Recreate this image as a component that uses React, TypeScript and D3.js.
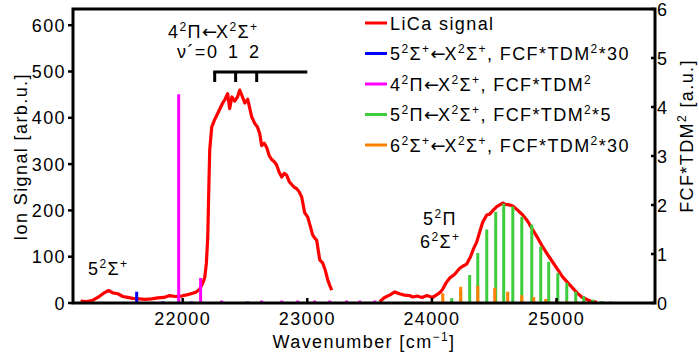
import * as d3 from 'd3';
import * as React from 'react';

// LiCa ion signal, two scanned ranges (wavenumber, ion signal)
const scanAW = [21181, 21230, 21280, 21330, 21370, 21406, 21440, 21480, 21520, 21560, 21599, 21650, 21700, 21750, 21800, 21850, 21896, 21940, 21992, 22040, 22080, 22110, 22136, 22160, 22177, 22190, 22201, 22210, 22217, 22233, 22255, 22273, 22300, 22321, 22340, 22361, 22377, 22395, 22417, 22440, 22458, 22480, 22498, 22522, 22554, 22578, 22600, 22618, 22634, 22655, 22674, 22695, 22714, 22735, 22754, 22775, 22795, 22815, 22835, 22855, 22875, 22895, 22915, 22935, 22955, 22979, 23003, 23025, 23043, 23060, 23075, 23090, 23100, 23124, 23145, 23164, 23180, 23196];
const scanAV = [4, 3, 6, 14, 22, 27, 22, 20, 14, 12, 10, 9, 8, 9, 11, 12, 16, 14, 15, 18, 21, 24, 30, 42, 55, 85, 140, 250, 330, 380, 395, 405, 420, 432, 440, 452, 420, 445, 436, 445, 460, 445, 432, 440, 402, 388, 380, 366, 340, 345, 336, 318, 310, 305, 298, 282, 272, 280, 276, 262, 256, 250, 247, 240, 229, 195, 186, 165, 147, 140, 136, 110, 93, 86, 70, 50, 38, 28];
const scanBW = [23581, 23620, 23661, 23702, 23740, 23780, 23820, 23846, 23880, 23920, 23960, 24007, 24040, 24070, 24087, 24115, 24143, 24183, 24223, 24250, 24279, 24310, 24335, 24360, 24385, 24408, 24440, 24464, 24490, 24520, 24545, 24568, 24590, 24620, 24645, 24665, 24690, 24729, 24770, 24809, 24850, 24889, 24930, 24970, 25010, 25050, 25090, 25130, 25165, 25202, 25240, 25283, 25323];
const scanBV = [3, 12, 17, 24, 20, 17, 16, 13, 15, 12, 16, 12, 18, 24, 30, 44, 54, 62, 75, 80, 84, 100, 118, 132, 155, 175, 190, 192, 200, 208, 212, 216, 213, 212, 210, 206, 200, 190, 176, 158, 140, 121, 104, 88, 72, 56, 44, 32, 22, 13, 8, 3, 2];

// computed stick spectra (FCF*TDM^2, scaled)
const sigma5W = [21631, 21839, 22072, 22313, 22522];
const sigma5H = [0.23, 0.03, 0.03, 0.03, 0.03];
const pi4W = [21968, 22144, 22313, 22634, 22795, 22923, 23059, 23180, 23316, 23421, 23541];
const pi4H = [4.26, 0.51, 0.05, 0.05, 0.05, 0.05, 0.05, 0.05, 0.05, 0.05, 0.05];
const pi5W = [24159, 24231, 24303, 24368, 24440, 24512, 24576, 24649, 24721, 24801, 24873, 24937, 25010, 25082, 25154, 25218, 25291, 25363, 25435, 25507, 25571, 25636];
const pi5H = [0.1, 0.25, 0.57, 1.02, 1.5, 1.86, 2.03, 1.97, 1.76, 1.6, 1.15, 0.84, 0.61, 0.41, 0.23, 0.14, 0.07, 0.04, 0.03, 0.02, 0.02, 0.02];
const sigma6W = [24087, 24231, 24368, 24504, 24608, 24721, 24817, 24913, 25002, 25082, 25162, 25243, 25363, 25419, 25475, 25531, 25588, 25644];
const sigma6H = [0.2, 0.33, 0.35, 0.31, 0.23, 0.16, 0.12, 0.08, 0.06, 0.04, 0.03, 0.02, 0.02, 0.02, 0.02, 0.02, 0.02, 0.02];

// v' = 0, 1, 2 of 4²Π and end of the progression bracket
const vLevels = [22257, 22425, 22594];
const vLabels = ['0', '1', '2'];
const bracketEnd = 23000;

const xTicks = [22000, 23000, 24000, 25000];
const leftTicks = [0, 100, 200, 300, 400, 500, 600];
const rightTicks = [0, 1, 2, 3, 4, 5, 6];

const font = "'Liberation Sans', Arial, Helvetica, sans-serif";

// label built from [text, superscript] pairs
const Term = ({ parts }) => (
  <>
    {parts.map(([t, s], i) => (
      <React.Fragment key={i}>
        <tspan dy={i === 0 ? 0 : 7} fontSize={18}>
          {t.split('←').map((p, j) =>
            j === 0 ? p : (
              <React.Fragment key={j}>
                <tspan fontFamily="'DejaVu Sans'" letterSpacing={-1}>←</tspan>
                {p}
              </React.Fragment>
            )
          )}
        </tspan>
        {s ? <tspan fontSize={12} dy={-7}>{s}</tspan> : <tspan dy={-7}>{''}</tspan>}
      </React.Fragment>
    ))}
  </>
);

const legendRows = [
  { color: '#ff0000', parts: [['LiCa signal', '']] },
  { color: '#0000ff', parts: [['5', '2'], ['Σ', '+'], ['←X', '2'], ['Σ', '+'], [', FCF*TDM', '2'], ['*30', '']] },
  { color: '#ff00ff', parts: [['4', '2'], ['Π←X', '2'], ['Σ', '+'], [', FCF*TDM', '2']] },
  { color: '#3ccc3c', parts: [['5', '2'], ['Π←X', '2'], ['Σ', '+'], [', FCF*TDM', '2'], ['*5', '']] },
  { color: '#ff8000', parts: [['6', '2'], ['Σ', '+'], ['←X', '2'], ['Σ', '+'], [', FCF*TDM', '2'], ['*30', '']] },
];

const App = () => {
  const W = 699;
  const H = 362;
  const m = { left: 73, right: 655, top: 9, bottom: 303 };

  const x = d3.scaleLinear().domain([21120, 25790]).range([m.left, m.right]);
  const yL = d3.scaleLinear().domain([0, 635]).range([m.bottom, m.top]);
  const yR = d3.scaleLinear().domain([0, 6]).range([m.bottom, m.top]);

  const line = d3
    .line<[number, number]>()
    .x((d) => x(d[0]))
    .y((d) => yL(d[1]));

  const scanA = scanAW.map((w, i) => [w, scanAV[i]] as [number, number]);
  const scanB = scanBW.map((w, i) => [w, scanBV[i]] as [number, number]);

  const sticks = (ws, hs, color, key) =>
    ws.map((w, i) => (
      <line key={key + i} x1={x(w)} x2={x(w)} y1={yR(0)} y2={yR(hs[i])} stroke={color} strokeWidth={3} />
    ));

  const bracketY = 72;

  return (
    <svg width={W} height={H} style={{ position: 'absolute', left: 0, top: 0, background: '#fff' }} fontFamily={font} letterSpacing={1.4}>
      <rect x={0} y={0} width={W} height={H} fill="#fff" />

      {/* signal */}
      <path d={line(scanA)} fill="none" stroke="#ff0000" strokeWidth={3.2} strokeLinejoin="round" />
      <path d={line(scanB)} fill="none" stroke="#ff0000" strokeWidth={3.2} strokeLinejoin="round" />

      {/* sticks */}
      {sticks(sigma5W, sigma5H, '#0000ff', 's5')}
      {sticks(pi4W, pi4H, '#ff00ff', 'p4')}
      {sticks(pi5W, pi5H, '#3ccc3c', 'p5')}
      {sticks(sigma6W, sigma6H, '#ff8000', 's6')}

      {/* axes box */}
      <rect x={m.left} y={m.top} width={m.right - m.left} height={m.bottom - m.top} fill="none" stroke="#000" strokeWidth={3} />

      {xTicks.map((t) => (
        <g key={'x' + t}>
          <line x1={x(t)} x2={x(t)} y1={m.bottom} y2={m.bottom - 5} stroke="#000" strokeWidth={2.5} />
          <text x={x(t)} y={325} textAnchor="middle" fontSize={18}>{t}</text>
        </g>
      ))}
      {leftTicks.map((t) => (
        <g key={'l' + t}>
          <line x1={m.left - 5} x2={m.left} y1={yL(t)} y2={yL(t)} stroke="#000" strokeWidth={2.5} />
          <text x={66} y={yL(t) + 6.5} textAnchor="end" fontSize={18}>{t}</text>
        </g>
      ))}
      {rightTicks.map((t) => (
        <g key={'r' + t}>
          <line x1={m.right - 4} x2={m.right} y1={yR(t)} y2={yR(t)} stroke="#000" strokeWidth={2.5} />
          <text x={657} y={yR(t) + 6.5} fontSize={18}>{t}</text>
        </g>
      ))}

      {/* axis titles */}
      <text transform="translate(27,157) rotate(-90)" textAnchor="middle" fontSize={18}>Ion Signal [arb.u.]</text>
      <text transform="translate(693,136) rotate(-90)" textAnchor="middle" fontSize={18}>
        FCF*TDM<tspan fontSize={12} dy={-7}>2</tspan><tspan dy={7}> [a.u.]</tspan>
      </text>
      <text x={364} y={348} textAnchor="middle" fontSize={18}>
        Wavenumber [cm<tspan fontSize={12} dy={-7}>−1</tspan><tspan dy={7}>]</tspan>
      </text>

      {/* legend */}
      {legendRows.map((r, i) => {
        const cy = 23 + i * 30.5;
        return (
          <g key={'lg' + i}>
            <line x1={365} x2={387} y1={cy} y2={cy} stroke={r.color} strokeWidth={3} />
            <text x={390} y={cy + 6.5} fontSize={18}>
              <Term parts={r.parts} />
            </text>
          </g>
        );
      })}

      {/* annotations */}
      <text x={168} y={38} fontSize={18}>
        <Term parts={[['4', '2'], ['Π←X', '2'], ['Σ', '+']]} />
      </text>
      <text x={177} y={58} fontSize={18}>ν´=</text>
      {vLevels.map((v, i) => (
        <g key={'v' + i}>
          <text x={x(v) - 2} y={58} textAnchor="middle" fontSize={18}>{vLabels[i]}</text>
          <line x1={x(v)} x2={x(v)} y1={bracketY} y2={bracketY + 10} stroke="#000" strokeWidth={3} />
        </g>
      ))}
      <line x1={x(vLevels[0]) - 1.5} x2={x(bracketEnd)} y1={bracketY} y2={bracketY} stroke="#000" strokeWidth={3} />

      <text x={88} y={275} fontSize={18}>
        <Term parts={[['5', '2'], ['Σ', '+']]} />
      </text>
      <text x={423} y={225} fontSize={18}>
        <Term parts={[['5', '2'], ['Π', '']]} />
      </text>
      <text x={420} y={248} fontSize={18}>
        <Term parts={[['6', '2'], ['Σ', '+']]} />
      </text>
    </svg>
  );
};

export default App;
